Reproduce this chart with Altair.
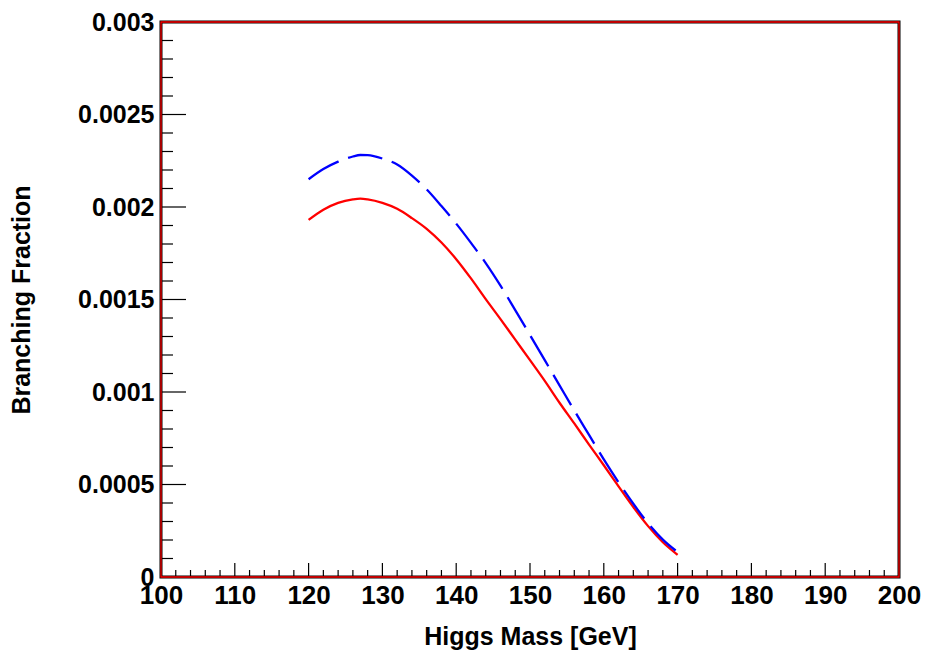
import altair as alt
import pandas as pd
import numpy as np

# Higgs mass grid [GeV]
mass = [120, 122, 124, 126, 127, 128, 130, 132, 134, 136, 138, 140, 142, 144,
        146, 148, 150, 152, 154, 156, 158, 160, 162, 164, 166, 168, 170]
# solid red curve
red_bf = [0.00193, 0.001985, 0.002022, 0.002041, 0.002045, 0.002041, 0.002022, 0.00199,
          0.00194, 0.001882, 0.001808, 0.001718, 0.001614, 0.001502, 0.001394, 0.001283,
          0.001172, 0.00106, 0.000942, 0.00083, 0.000716, 0.000604, 0.00049, 0.000378,
          0.000275, 0.000188, 0.00012]
# dashed blue curve
blue_bf = [0.00215, 0.002205, 0.002245, 0.002273, 0.002281, 0.00228, 0.002262, 0.00223,
           0.00217, 0.002095, 0.002005, 0.00191, 0.001806, 0.001697, 0.001575, 0.001443,
           0.001308, 0.001172, 0.001036, 0.0009, 0.000768, 0.000636, 0.000512, 0.000396,
           0.00029, 0.000202, 0.000135]

x_major = [100, 110, 120, 130, 140, 150, 160, 170, 180, 190, 200]
x_minor = [v for v in range(100, 201, 2) if v % 10 != 0]
y_major = [0, 0.0005, 0.001, 0.0015, 0.002, 0.0025, 0.003]
y_minor = [round(i * 0.0001, 4) for i in range(0, 31) if i % 5 != 0]

W, H = 738, 555
FONT = "Liberation Sans"

xs = alt.Scale(domain=[100, 200], nice=False, zero=False)
ys = alt.Scale(domain=[0, 0.003], nice=False)

red_df = pd.DataFrame({"mass": mass, "bf": red_bf})
blue_df = pd.DataFrame({"mass": mass, "bf": blue_bf})

base_x = alt.X("mass:Q", scale=xs, axis=alt.Axis(
    values=x_major, format="d", ticks=False, tickSize=0, domain=False, grid=False,
    labelFont=FONT, labelFontSize=26, labelFontWeight="bold", labelColor="black",
    labelPadding=5, labelFlush=False,
    title="Higgs Mass [GeV]", titleFont=FONT, titleFontSize=25, titleFontWeight="bold",
    titleColor="black", titlePadding=16))
base_y = alt.Y("bf:Q", scale=ys, axis=alt.Axis(
    values=y_major, format="~g", ticks=False, tickSize=0, domain=False, grid=False,
    labelFont=FONT, labelFontSize=25, labelFontWeight="bold", labelColor="black",
    labelPadding=7, labelFlush=False,
    title="Branching Fraction", titleFont=FONT, titleFontSize=25, titleFontWeight="bold",
    titleColor="black", titlePadding=43))

red_line = alt.Chart(red_df).mark_line(color="#ff0000", strokeWidth=2.3,
                                       interpolate="monotone").encode(
    x=base_x, y=base_y)
blue_line = alt.Chart(blue_df).mark_line(color="#0000ff", strokeWidth=2.3,
                                         interpolate="monotone",
                                         strokeDash=[35, 10]).encode(
    x=alt.X("mass:Q", scale=xs), y=alt.Y("bf:Q", scale=ys))

frame_df = pd.DataFrame({"x0": [100], "x1": [200], "y0": [0], "y1": [0.003]})
red_frame = alt.Chart(frame_df).mark_rect(filled=False, stroke="#ff0000",
                                          strokeWidth=1.3).encode(
    x=alt.X("x0:Q", scale=xs), x2="x1:Q",
    y=alt.Y("y0:Q", scale=ys), y2="y1:Q")

xmaj = alt.Chart(pd.DataFrame({"v": x_major})).mark_rule(color="black", strokeWidth=1.2).encode(
    x=alt.X("v:Q", scale=xs), y=alt.value(H), y2=alt.value(H - 14))
xmin = alt.Chart(pd.DataFrame({"v": x_minor})).mark_rule(color="black", strokeWidth=1.2).encode(
    x=alt.X("v:Q", scale=xs), y=alt.value(H), y2=alt.value(H - 7))
ymaj = alt.Chart(pd.DataFrame({"v": y_major})).mark_rule(color="black", strokeWidth=1.2).encode(
    y=alt.Y("v:Q", scale=ys), x=alt.value(0), x2=alt.value(25))
ymin = alt.Chart(pd.DataFrame({"v": y_minor})).mark_rule(color="black", strokeWidth=1.2).encode(
    y=alt.Y("v:Q", scale=ys), x=alt.value(0), x2=alt.value(12))

chart = alt.layer(red_line, blue_line, xmaj, xmin, ymaj, ymin, red_frame).properties(
    width=W, height=H,
    padding={"left": 153, "top": 14, "right": 23, "bottom": 75},
    autosize=alt.AutoSizeParams(type="none"),
    background="white",
).configure_view(stroke="black", strokeWidth=3)

chart.save("out.html", embed_options={"renderer": "svg", "actions": False})
